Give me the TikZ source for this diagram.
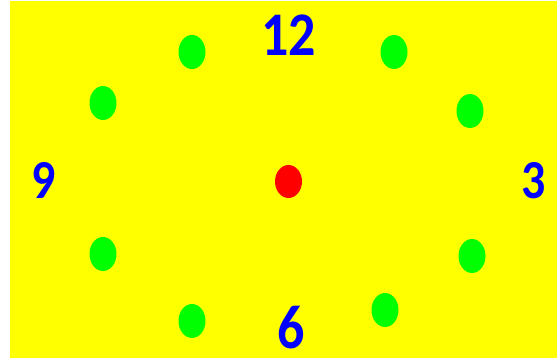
\documentclass[tikz,border=0pt]{standalone}
\usepackage{fontspec}
\setmainfont{Carlito}
\definecolor{bgyellow}{RGB}{255,255,0}
\definecolor{dotgreen}{RGB}{0,255,0}
\definecolor{numblue}{RGB}{0,0,255}
\definecolor{dotred}{RGB}{255,0,0}
\tikzset{
  greendot/.style={ellipse, fill=dotgreen, minimum width=27pt, minimum height=34pt, inner sep=0pt},
  reddot/.style={ellipse, fill=dotred, minimum width=27pt, minimum height=33pt, inner sep=0pt},
  bignum/.style={text=numblue, inner sep=0pt, font=\bfseries\fontsize{62}{62}\selectfont},
  smallnum/.style={text=numblue, inner sep=0pt, font=\bfseries\fontsize{55}{55}\selectfont}
}
\usetikzlibrary{shapes.geometric}
\begin{document}
\begin{tikzpicture}[x=1pt,y=-1pt]
\useasboundingbox (0,0) rectangle (557,358);
\fill[bgyellow] (10,1.5) rectangle (557,358);
\node[greendot] (d1) at (192,52) {};
\node[greendot] (d2) at (394,52) {};
\node[greendot] (d4) at (470,111) {};
\node[greendot] (d5) at (472,256) {};
\node[greendot] (d7) at (385,310) {};
\node[greendot] (d8) at (192,321) {};
\node[greendot] (d10) at (103,254) {};
\node[greendot] (d11) at (103,103) {};
\node[reddot] (c) at (288.5,181.5) {};
\node[bignum] (n12) at (288.5,35.5) {\scalebox{0.87}[1]{12}};
\node[bignum] (n6) at (291,327.5) {\scalebox{0.87}[1]{6}};
\node[smallnum] (n9) at (43.5,180.5) {\scalebox{0.87}[1]{9}};
\node[smallnum] (n3) at (533.5,181) {\scalebox{0.87}[1]{3}};
\end{tikzpicture}
\end{document}
